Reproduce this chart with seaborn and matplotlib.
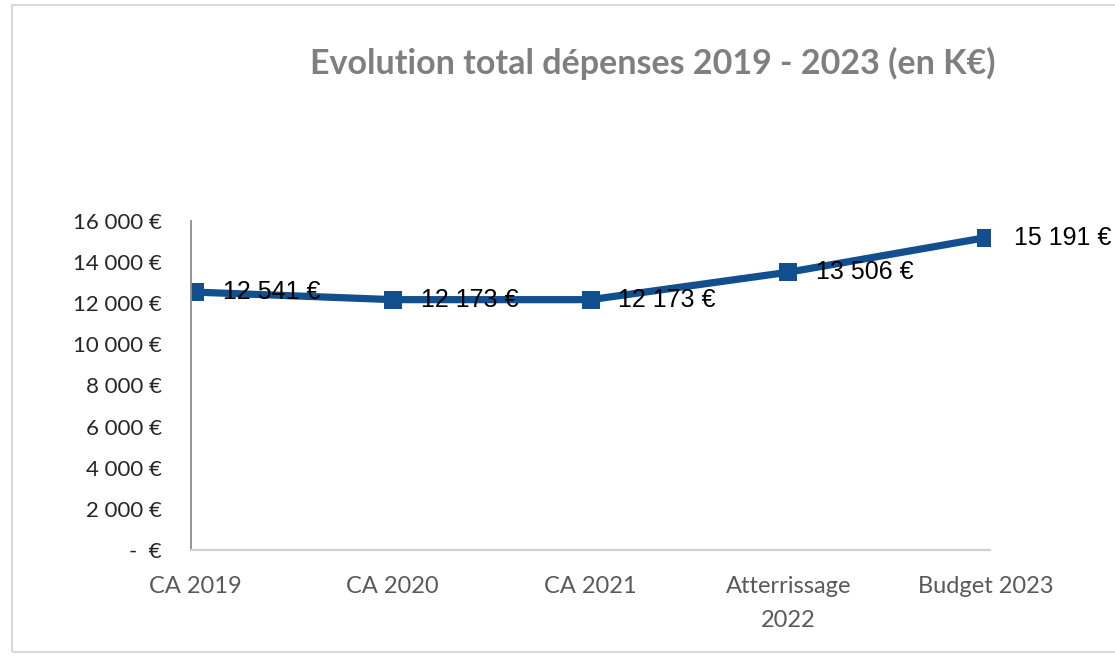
import matplotlib
matplotlib.use('Agg')
import matplotlib.pyplot as plt
import seaborn as sns
import pandas as pd
from matplotlib.patches import Rectangle
from matplotlib.ticker import FuncFormatter

# donnees (K€)
categories = ['CA 2019', 'CA 2020', 'CA 2021', 'Atterrissage\n2022', 'Budget 2023']
depenses = [12541, 12173, 12173, 13506, 15191]
y_ticks = [0, 2000, 4000, 6000, 8000, 10000, 12000, 14000, 16000]
title = 'Evolution total dépenses 2019 - 2023 (en K€)'


def fmt_eur(v, pos=None):
    if v == 0:
        return '-  €'
    return '{:,.0f}'.format(v).replace(',', ' ') + ' €'


df = pd.DataFrame({'pos': range(len(categories)), 'depenses': depenses})

sns.set_theme(style='white')
plt.rcParams['font.family'] = ['Lato', 'DejaVu Sans']

fig = plt.figure(figsize=(11.15, 6.57), dpi=100)
ax = fig.add_axes([0.1713, 0.1629, 0.7166, 0.5008])

sns.lineplot(data=df, x='pos', y='depenses', ax=ax, color='#124f8e', linewidth=5.2,
             marker='s', markersize=13.5, markeredgewidth=0)

ax.set_ylim(0, 16000)
ax.set_xlim(-0.02, 4.02)
ax.set_yticks(y_ticks)
ax.yaxis.set_major_formatter(FuncFormatter(fmt_eur))
ax.set_xticks(df['pos'])
ax.set_xticklabels(categories, color='#595959', fontsize=17, linespacing=1.75)
ax.tick_params(axis='y', length=0, pad=21, labelsize=16, labelcolor='#262626')
ax.tick_params(axis='x', length=0, pad=19)
ax.set_xlabel('')
ax.set_ylabel('')

for s in ['top', 'right']:
    ax.spines[s].set_visible(False)
ax.spines['left'].set_color('#8c8c8c')
ax.spines['left'].set_linewidth(1.3)
ax.spines['bottom'].set_color('#d0d0d0')
ax.spines['bottom'].set_linewidth(1.6)

# etiquettes de donnees
for i, v in enumerate(depenses):
    ax.annotate(fmt_eur(v), (i, v), xytext=(20, 0), textcoords='offset points',
                va='center', ha='left', fontsize=18, color='black',
                family=['Liberation Sans', 'DejaVu Sans'], annotation_clip=False)

fig.text(0.585, 0.904, title, ha='center', va='center', fontsize=24.5,
         fontweight='bold', color='#7f7f7f')

# cadre du graphique
fig.add_artist(Rectangle((0.0108, 0.0076), 1.02, 0.985, transform=fig.transFigure,
                         fill=False, edgecolor='#d9d9d9', linewidth=1.5, clip_on=False))

fig.savefig('out.png', dpi=100)
